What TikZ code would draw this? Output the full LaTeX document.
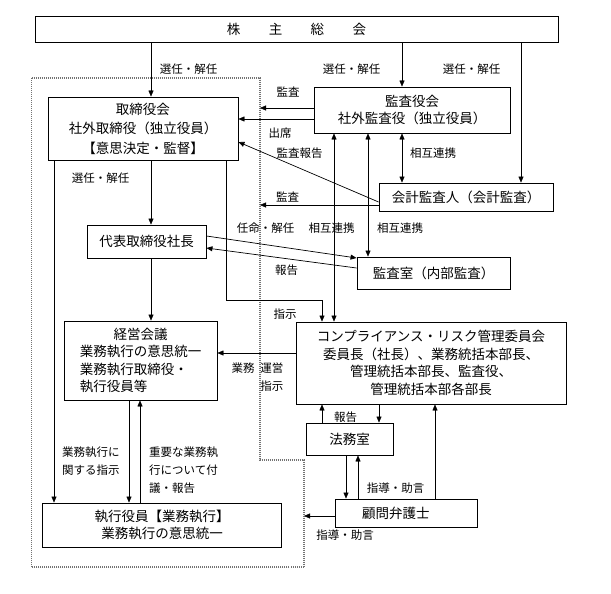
\documentclass[tikz,border=0pt]{standalone}
\usepackage{fontspec}
\usepackage{tikz}
\usetikzlibrary{arrows.meta, positioning}
\newfontfamily\jpfont{Noto Sans CJK JP}
\pgfdeclarelayer{edgelayer}
\pgfdeclarelayer{nodelayer}
\pgfsetlayers{nodelayer,main,edgelayer}
\tikzset{
	box/.style={draw, line width=0.9pt, inner sep=0pt, align=center, font={\jpfont\fontsize{13.5}{17.5}\selectfont}},
	lbl/.style={inner sep=0pt, align=left, font={\jpfont\fontsize{11.5}{18}\selectfont}},
	fence/.style={black!55, line width=1.5pt, dash pattern=on 1pt off 1pt},
}
\begin{document}
\begin{tikzpicture}[x=1pt, y=-1pt, line width=0.9pt, >={Triangle[length=6pt, width=5pt]}]
	\useasboundingbox (0,0) rectangle (611,594);
	\begin{pgfonlayer}{nodelayer}
		\node [box, minimum width=523, minimum height=26] (0) at (296.5, 29) {株\hspace{2.1em}主\hspace{2.1em}総\hspace{2.1em}会};
		\node [box, minimum width=190, minimum height=63, font={\jpfont\fontsize{13.5}{19.5}\selectfont}] (1) at (143, 128.5) {取締役会\\社外取締役（独立役員）\\【意思決定・監督】};
		\node [box, minimum width=196, minimum height=46] (2) at (412, 110) {監査役会\\社外監査役（独立役員）};
		\node [box, minimum width=174, minimum height=28] (3) at (466, 197) {会計監査人（会計監査）};
		\node [box, minimum width=119, minimum height=33] (4) at (146.5, 241.5) {代表取締役社長};
		\node [box, minimum width=153, minimum height=32] (5) at (433.5, 273) {監査室（内部監査）};
		\node [box, minimum width=153, minimum height=79, align=left] (6) at (140.5, 360.5) {\hspace*{2.5em}経営会議\\業務執行の意思統一\\業務執行取締役・\\執行役員等};
		\node [box, minimum width=270, minimum height=82] (7) at (431, 363) {コンプライアンス・リスク管理委員会\\委員長（社長）、業務統括本部長、\\管理統括本部長、監査役、\\管理統括本部各部長};
		\node [box, minimum width=87, minimum height=32] (8) at (349.5, 439) {法務室};
		\node [box, minimum width=142, minimum height=28] (9) at (406, 513) {顧問弁護士\hspace*{1.5em}};
		\node [box, minimum width=238.5, minimum height=44] (10) at (162, 525) {執行役員【業務執行】\\業務執行の意思統一};
		\node [lbl] (11) at (188.5, 69) {選任・解任};
		\node [lbl] (12) at (351.5, 69) {選任・解任};
		\node [lbl] (13) at (471.5, 69) {選任・解任};
		\node [lbl] (14) at (288, 92) {監査};
		\node [lbl] (15) at (280, 133) {出席};
		\node [lbl] (16) at (299.5, 153) {監査報告};
		\node [lbl] (17) at (433, 153) {相互連携};
		\node [lbl] (18) at (100.5, 178) {選任・解任};
		\node [lbl] (19) at (287.5, 197) {監査};
		\node [lbl] (60) at (265.5, 228) {任命・解任};
		\node [lbl] (61) at (331.5, 228) {相互連携};
		\node [lbl] (62) at (400, 228) {相互連携};
		\node [lbl] (63) at (286.5, 270) {報告};
		\node [lbl] (64) at (285, 314) {指示};
		\node [lbl, align=right] (65) at (257.5, 377.5) {業務\hspace{0.5em}運営\\指示};
		\node [lbl] (66) at (345.5, 417) {報告};
		\node [lbl] (67) at (395.5, 488) {指導・助言};
		\node [lbl] (68) at (345, 535) {指導・助言};
		\node [lbl, anchor=west] (69) at (62, 461) {業務執行に\\関する指示};
		\node [lbl, anchor=west] (70) at (149, 470) {重要な業務執\\行について付\\議・報告};
		% columns and rows
		\coordinate (20) at (151, 0);
		\coordinate (21) at (402, 0);
		\coordinate (22) at (521, 0);
		\coordinate (23) at (334, 0);
		\coordinate (24) at (368, 0);
		\coordinate (25) at (54, 0);
		\coordinate (26) at (226, 0);
		\coordinate (27) at (322, 300);
		\coordinate (50) at (129, 0);
		\coordinate (51) at (140, 0);
		\coordinate (52) at (379, 0);
		\coordinate (53) at (435, 0);
		\coordinate (54) at (346, 0);
		\coordinate (55) at (358, 0);
		\coordinate (30) at (0, 108);
		\coordinate (31) at (0, 119);
		\coordinate (32) at (0, 202);
		\coordinate (33) at (0, 142);
		\coordinate (34) at (0, 205);
		\coordinate (35) at (0, 236);
		\coordinate (36) at (0, 258);
		\coordinate (37) at (0, 268);
		\coordinate (38) at (0, 248);
		\coordinate (39) at (0, 353);
		\coordinate (56) at (0, 516);
		% dotted frame
		\coordinate (40) at (31.5, 78);
		\coordinate (41) at (260, 78);
		\coordinate (42) at (260, 460);
		\coordinate (43) at (304, 460);
		\coordinate (44) at (304, 567);
		\coordinate (45) at (31.5, 567);
	\end{pgfonlayer}
	\begin{pgfonlayer}{edgelayer}
		\draw [fence] (40) -- (41) -- (42) -- (43) -- (44) -- (45) -- cycle;
		\draw [->] (0.south -| 20) to (1.north -| 20);
		\draw [->] (0.south -| 21) to (2.north -| 21);
		\draw [->] (0.south -| 22) to (3.north -| 22);
		\draw [->] (2.west |- 30) to (41 |- 30);
		\draw [->] (2.west |- 31) to (1.east |- 31);
		\draw [->, line width=0.7pt] (3.west |- 32) to (1.east |- 33);
		\draw [->] (3.west |- 34) to (41 |- 34);
		\draw [<->] (2.south -| 21) to (3.north -| 21);
		\draw [<->] (2.south -| 23) to (7.north -| 23);
		\draw [<->] (2.south -| 24) to (5.north -| 24);
		\draw [->] (1.south -| 20) to (4.north -| 20);
		\draw [->] (1.south -| 25) to (10.north -| 25);
		\draw [->] (1.south -| 26) |- (27) to (7.north -| 27);
		\draw [->, line width=0.7pt] (4.east |- 35) to (5.west |- 36);
		\draw [->, line width=0.7pt] (5.west |- 37) to (4.east |- 38);
		\draw [->] (4.south -| 20) to (6.north -| 20);
		\draw [->] (7.west |- 39) to (6.east |- 39);
		\draw [->] (6.south -| 50) to (10.north -| 50);
		\draw [->] (10.north -| 51) to (6.south -| 51);
		\draw [->] (8.north -| 27) to (7.south -| 27);
		\draw [->] (7.south -| 52) to (8.north -| 52);
		\draw [->] (9.north -| 53) to (7.south -| 53);
		\draw [->] (8.south -| 54) to (9.north -| 54);
		\draw [->] (9.north -| 55) to (8.south -| 55);
		\draw [->] (9.west |- 56) to (43 |- 56);
	\end{pgfonlayer}
\end{tikzpicture}
\end{document}
